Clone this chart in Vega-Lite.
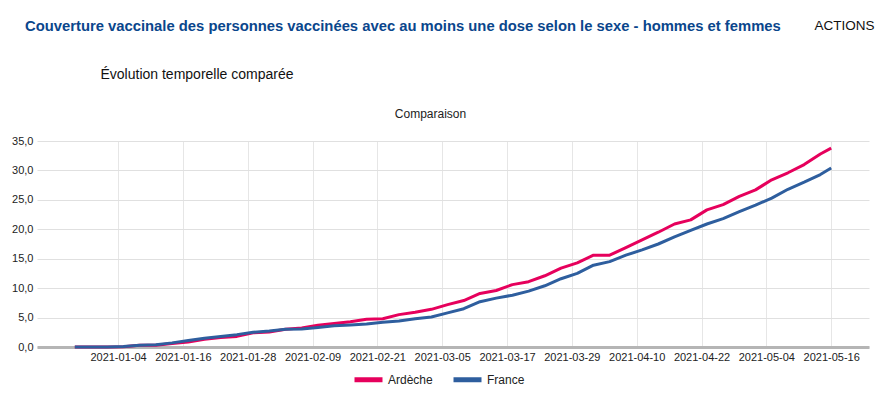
{
  "$schema": "https://vega.github.io/schema/vega-lite/v6.json",
  "width": 832,
  "height": 206,
  "autosize": {"type": "none"},
  "padding": {"left": 37, "top": 141, "right": 10, "bottom": 49},
  "background": "white",
  "config": {
    "locale": {"number": {"decimal": ",", "thousands": "\u00a0", "grouping": [3], "currency": ["", " €"]}},
    "font": "Liberation Sans",
    "view": {"stroke": null}
  },
  "title": {
    "text": "Couverture vaccinale des personnes vaccinées avec au moins une dose selon le sexe - hommes et femmes",
    "anchor": "start",
    "frame": "group",
    "dx": -12,
    "dy": 20,
    "fontSize": 14.8,
    "fontWeight": "bold",
    "color": "#0a468c",
    "font": "Liberation Sans"
  },
  "data": {
    "values": [
      {"date": "2020-12-27", "Ardèche": 0.0, "France": 0.0},
      {"date": "2020-12-30", "Ardèche": 0.0, "France": 0.0},
      {"date": "2021-01-02", "Ardèche": 0.0, "France": 0.0},
      {"date": "2021-01-05", "Ardèche": 0.05, "France": 0.1},
      {"date": "2021-01-08", "Ardèche": 0.3, "France": 0.3},
      {"date": "2021-01-11", "Ardèche": 0.3, "France": 0.4},
      {"date": "2021-01-14", "Ardèche": 0.6, "France": 0.7},
      {"date": "2021-01-17", "Ardèche": 0.85, "France": 1.1},
      {"date": "2021-01-20", "Ardèche": 1.3, "France": 1.5},
      {"date": "2021-01-23", "Ardèche": 1.6, "France": 1.8},
      {"date": "2021-01-26", "Ardèche": 1.8, "France": 2.1},
      {"date": "2021-01-29", "Ardèche": 2.4, "France": 2.5},
      {"date": "2021-02-01", "Ardèche": 2.55, "France": 2.7},
      {"date": "2021-02-04", "Ardèche": 3.0, "France": 3.0},
      {"date": "2021-02-07", "Ardèche": 3.25, "France": 3.05},
      {"date": "2021-02-10", "Ardèche": 3.7, "France": 3.3},
      {"date": "2021-02-13", "Ardèche": 4.0, "France": 3.6},
      {"date": "2021-02-16", "Ardèche": 4.3, "France": 3.75},
      {"date": "2021-02-19", "Ardèche": 4.7, "France": 3.9},
      {"date": "2021-02-22", "Ardèche": 4.8, "France": 4.2},
      {"date": "2021-02-25", "Ardèche": 5.5, "France": 4.4},
      {"date": "2021-02-28", "Ardèche": 5.9, "France": 4.8},
      {"date": "2021-03-03", "Ardèche": 6.4, "France": 5.1},
      {"date": "2021-03-06", "Ardèche": 7.2, "France": 5.8},
      {"date": "2021-03-09", "Ardèche": 7.9, "France": 6.5},
      {"date": "2021-03-12", "Ardèche": 9.1, "France": 7.7},
      {"date": "2021-03-15", "Ardèche": 9.6, "France": 8.3},
      {"date": "2021-03-18", "Ardèche": 10.6, "France": 8.8},
      {"date": "2021-03-21", "Ardèche": 11.1, "France": 9.5},
      {"date": "2021-03-24", "Ardèche": 12.1, "France": 10.4},
      {"date": "2021-03-27", "Ardèche": 13.4, "France": 11.6},
      {"date": "2021-03-30", "Ardèche": 14.3, "France": 12.5},
      {"date": "2021-04-02", "Ardèche": 15.6, "France": 13.9},
      {"date": "2021-04-05", "Ardèche": 15.6, "France": 14.5},
      {"date": "2021-04-08", "Ardèche": 16.9, "France": 15.6},
      {"date": "2021-04-11", "Ardèche": 18.2, "France": 16.5},
      {"date": "2021-04-14", "Ardèche": 19.5, "France": 17.5},
      {"date": "2021-04-17", "Ardèche": 20.9, "France": 18.7},
      {"date": "2021-04-20", "Ardèche": 21.6, "France": 19.8},
      {"date": "2021-04-23", "Ardèche": 23.3, "France": 20.9},
      {"date": "2021-04-26", "Ardèche": 24.2, "France": 21.8},
      {"date": "2021-04-29", "Ardèche": 25.6, "France": 23.0},
      {"date": "2021-05-02", "Ardèche": 26.7, "France": 24.1},
      {"date": "2021-05-05", "Ardèche": 28.4, "France": 25.3},
      {"date": "2021-05-08", "Ardèche": 29.6, "France": 26.8},
      {"date": "2021-05-11", "Ardèche": 31.0, "France": 28.0},
      {"date": "2021-05-14", "Ardèche": 32.8, "France": 29.3},
      {"date": "2021-05-16", "Ardèche": 33.8, "France": 30.4}
    ]
  },
  "transform": [{"fold": ["Ardèche", "France"], "as": ["zone", "value"]}],
  "layer": [
    {
      "mark": {"type": "line", "strokeWidth": 3, "strokeJoin": "round"},
      "encoding": {
        "x": {
          "field": "date",
          "type": "temporal",
          "scale": {
            "type": "utc",
            "domain": [
              {"year": 2020, "month": 12, "date": 20, "utc": true},
              {"year": 2021, "month": 5, "date": 23, "utc": true}
            ]
          },
          "axis": {
            "values": [
              {"year": 2021, "month": 1, "date": 4, "utc": true},
              {"year": 2021, "month": 1, "date": 16, "utc": true},
              {"year": 2021, "month": 1, "date": 28, "utc": true},
              {"year": 2021, "month": 2, "date": 9, "utc": true},
              {"year": 2021, "month": 2, "date": 21, "utc": true},
              {"year": 2021, "month": 3, "date": 5, "utc": true},
              {"year": 2021, "month": 3, "date": 17, "utc": true},
              {"year": 2021, "month": 3, "date": 29, "utc": true},
              {"year": 2021, "month": 4, "date": 10, "utc": true},
              {"year": 2021, "month": 4, "date": 22, "utc": true},
              {"year": 2021, "month": 5, "date": 4, "utc": true},
              {"year": 2021, "month": 5, "date": 16, "utc": true}
            ],
            "format": "%Y-%m-%d",
            "labelFontSize": 11,
            "labelColor": "#222222",
            "labelFont": "Liberation Sans",
            "labelPadding": 4,
            "labelFlush": false,
            "labelOverlap": false,
            "ticks": false,
            "grid": true,
            "gridColor": "#e6e6e6",
            "domainColor": "#b5b5b5",
            "domainWidth": 3,
            "title": "Évolution temporelle comparée",
            "titleX": 63,
            "titleY": -273,
            "titleAlign": "left",
            "titleBaseline": "middle",
            "titleFontSize": 14,
            "titleFontWeight": "normal",
            "titleColor": "#111111",
            "titleFont": "Liberation Sans"
          }
        },
        "y": {
          "field": "value",
          "type": "quantitative",
          "scale": {"domain": [0, 35]},
          "axis": {
            "values": [0, 5, 10, 15, 20, 25, 30, 35],
            "format": ".1f",
            "labelFontSize": 11,
            "labelColor": "#222222",
            "labelFont": "Liberation Sans",
            "labelPadding": 4,
            "ticks": false,
            "domain": false,
            "grid": true,
            "gridColor": "#e0e0e0",
            "title": "Comparaison",
            "titleAngle": 0,
            "titleX": 393,
            "titleY": -28,
            "titleAlign": "center",
            "titleBaseline": "middle",
            "titleFontSize": 12,
            "titleFontWeight": "normal",
            "titleColor": "#222222",
            "titleFont": "Liberation Sans"
          }
        },
        "color": {
          "field": "zone",
          "type": "nominal",
          "scale": {"domain": ["Ardèche", "France"], "range": ["#e6005c", "#2e5e9e"]},
          "legend": {
            "orient": "none",
            "legendX": 315,
            "legendY": 222,
            "direction": "horizontal",
            "title": null,
            "symbolType": "stroke",
            "symbolStrokeWidth": 5,
            "symbolSize": 784,
            "labelFontSize": 12,
            "labelColor": "#222222",
            "labelFont": "Liberation Sans",
            "labelOffset": 3,
            "columnPadding": 10
          }
        }
      }
    },
    {
      "mark": {"type": "line", "opacity": 0},
      "encoding": {
        "x": {"field": "date", "type": "temporal", "scale": {"type": "utc"}},
        "y": {
          "field": "value",
          "type": "quantitative",
          "scale": {"domain": [0, 35]},
          "axis": {
            "orient": "right",
            "labels": false,
            "ticks": false,
            "domain": false,
            "grid": false,
            "title": "ACTIONS",
            "titleAngle": 0,
            "titleX": -25,
            "titleY": -116,
            "titleAlign": "center",
            "titleBaseline": "middle",
            "titleFontSize": 13.5,
            "titleFontWeight": "normal",
            "titleColor": "#111111",
            "titleFont": "Liberation Sans"
          }
        },
        "detail": {"field": "zone", "type": "nominal"}
      }
    }
  ],
  "resolve": {"scale": {"y": "independent"}}
}
